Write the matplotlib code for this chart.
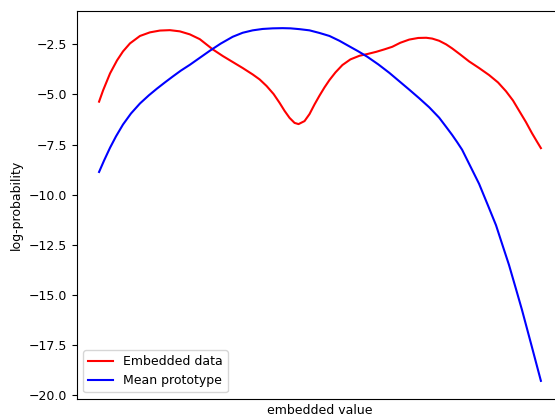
import numpy as np
import matplotlib
matplotlib.use("Agg")
import matplotlib.pyplot as plt

plt.rcParams["font.size"] = 9

# values (x in arbitrary embedding units)
x_data = [0, 4, 11, 18, 24, 31, 41, 51, 61, 71, 81, 91, 101, 114, 124, 134,
          144, 154, 161, 168, 175, 181, 186, 191, 196, 200, 206, 211, 216,
          221, 226, 231, 237, 244, 252, 261, 270, 278, 286, 294, 302, 311,
          320, 328, 334, 341, 348, 354, 362, 371, 381, 391, 400, 408, 415,
          421, 428, 434, 439, 443]
y_data = [-5.36, -4.80, -3.95, -3.30, -2.85, -2.45, -2.08, -1.90, -1.81,
          -1.79, -1.85, -2.00, -2.24, -2.75, -3.08, -3.38, -3.68, -4.00,
          -4.25, -4.58, -4.98, -5.42, -5.82, -6.17, -6.42, -6.48, -6.33,
          -5.98, -5.50, -5.06, -4.65, -4.28, -3.90, -3.53, -3.25, -3.07,
          -2.97, -2.87, -2.75, -2.62, -2.42, -2.26, -2.18, -2.17, -2.21,
          -2.32, -2.50, -2.70, -3.00, -3.35, -3.68, -4.03, -4.40, -4.84,
          -5.30, -5.80, -6.38, -6.93, -7.35, -7.68]

x_proto = [0, 5, 11, 17, 24, 32, 41, 50, 58, 66, 74, 82, 91, 101, 111, 122,
           134, 144, 154, 164, 174, 184, 192, 201, 211, 221, 231, 241, 251,
           260, 269, 280, 291, 301, 311, 321, 331, 341, 348, 354, 359, 364,
           373, 381, 390, 398, 405, 411, 418, 424, 429, 434, 439, 443]
y_proto = [-8.87, -8.30, -7.66, -7.09, -6.50, -5.95, -5.45, -5.04, -4.71,
           -4.40, -4.10, -3.81, -3.52, -3.17, -2.82, -2.46, -2.12, -1.92,
           -1.80, -1.73, -1.70, -1.69, -1.70, -1.74, -1.80, -1.93, -2.08,
           -2.32, -2.60, -2.85, -3.12, -3.50, -3.92, -4.34, -4.76, -5.19,
           -5.64, -6.16, -6.62, -7.02, -7.38, -7.76, -8.66, -9.46, -10.55,
           -11.53, -12.60, -13.51, -14.71, -15.75, -16.68, -17.61, -18.55,
           -19.30]

fig = plt.figure(figsize=(5.55, 4.19), dpi=100)
ax = fig.add_axes([0.1387, 0.0489, 0.8757, 0.926])

ax.plot(x_data, y_data, color="red", label="Embedded data")
ax.plot(x_proto, y_proto, color="blue", label="Mean prototype")
ax.set_xticks([])
ax.set_xlabel("embedded value")
ax.set_ylabel("log-probability")
ax.legend(loc="lower left")

fig.savefig("out.png", dpi=100)
